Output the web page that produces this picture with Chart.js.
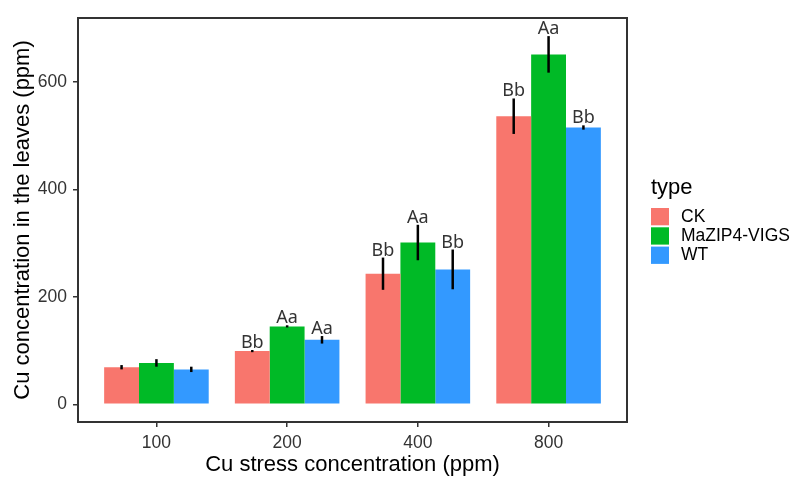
<!DOCTYPE html>
<html>
<head>
<meta charset="utf-8">
<script src="https://cdn.jsdelivr.net/npm/chart.js@4.4.0/dist/chart.umd.min.js"></script>
<style>
  html, body { margin: 0; padding: 0; background: #fff; }
  #wrap { width: 798px; height: 484px; }
</style>
</head>
<body>
<div id="wrap"><canvas id="myChart" width="798" height="484"></canvas></div>
<script>
// data
var categories = ['100', '200', '400', '800'];
var seriesNames = ['CK', 'MaZIP4-VIGS', 'WT'];
var ckValues = [69, 99, 243, 536];
var ckErr = [4, 2, 30, 33];
var ckLetters = ['', 'Bb', 'Bb', 'Bb'];
var vigsValues = [77, 145, 301, 651];
var vigsErr = [7, 2, 33, 34];
var vigsLetters = ['', 'Aa', 'Aa', 'Aa'];
var wtValues = [65, 120, 251, 515];
var wtErr = [5, 7, 37, 4];
var wtLetters = ['', 'Aa', 'Bb', 'Bb'];
var yTicks = [0, 200, 400, 600];

var colors = ['#F8766D', '#00BA26', '#3399FF'];
var errs = [ckErr, vigsErr, wtErr];
var letters = [ckLetters, vigsLetters, wtLetters];

function toPoints(vals) {
  return vals.map(function (v, i) { return { x: i + 1, y: v }; });
}

var chartData = {
  datasets: [
    { label: seriesNames[0], data: toPoints(ckValues), backgroundColor: colors[0] },
    { label: seriesNames[1], data: toPoints(vigsValues), backgroundColor: colors[1] },
    { label: seriesNames[2], data: toPoints(wtValues), backgroundColor: colors[2] }
  ]
};

// error bars, letters, panel border and legend
var extras = {
  id: 'extras',
  afterDatasetsDraw: function (chart) {
    var c = chart.ctx;
    var y = chart.scales.y;
    c.save();
    chart.data.datasets.forEach(function (ds, i) {
      var meta = chart.getDatasetMeta(i);
      meta.data.forEach(function (bar, j) {
        var v = ds.data[j].y;
        var e = errs[i][j];
        var top = y.getPixelForValue(v + e);
        var bot = y.getPixelForValue(v - e);
        c.strokeStyle = '#000';
        c.lineWidth = 2.5;
        c.beginPath();
        c.moveTo(bar.x, top);
        c.lineTo(bar.x, bot);
        c.stroke();
        if (letters[i][j]) {
          c.fillStyle = '#333';
          c.font = '18px "Noto Sans"';
          c.textAlign = 'center';
          c.textBaseline = 'alphabetic';
          c.fillText(letters[i][j], bar.x, top - 2);
        }
      });
    });
    c.restore();
  },
  afterDraw: function (chart) {
    var c = chart.ctx;
    var a = chart.chartArea;
    c.save();
    c.strokeStyle = '#333';
    c.lineWidth = 2;
    c.strokeRect(a.left, a.top, a.right - a.left, a.bottom - a.top);

    // legend
    var lx = 651, ly = 208;
    c.fillStyle = '#000';
    c.font = '22px "Liberation Sans"';
    c.textAlign = 'left';
    c.textBaseline = 'alphabetic';
    c.fillText('type', lx, 194);
    c.font = '17.5px "Liberation Sans"';
    c.textBaseline = 'middle';
    chart.data.datasets.forEach(function (ds, i) {
      c.fillStyle = ds.backgroundColor;
      c.fillRect(lx, ly + i * 19.3, 18, 17.3);
      c.fillStyle = '#000';
      c.fillText(ds.label, lx + 30, ly + i * 19.3 + 9);
    });
    c.restore();
  }
};

var ctx = document.getElementById('myChart').getContext('2d');
var myChart = new Chart(ctx, {
  type: 'bar',
  data: chartData,
  options: {
    responsive: false,
    animation: false,
    layout: { padding: { left: 0, top: 18, right: 171, bottom: 0 } },
    datasets: { bar: { categoryPercentage: 0.8, barPercentage: 1.0 } },
    plugins: { legend: { display: false }, tooltip: { enabled: false } },
    scales: {
      x: {
        type: 'linear',
        min: 0.4,
        max: 4.6,
        offset: false,
        afterBuildTicks: function (s) { s.ticks = categories.map(function (c, i) { return { value: i + 1 }; }); },
        afterFit: function (s) { s.height = 62; },
        border: { display: false },
        grid: { offset: false, drawOnChartArea: false, drawTicks: true, tickLength: 5, color: '#333', lineWidth: 1.5 },
        ticks: {
          padding: 6,
          color: '#333',
          font: { family: 'Liberation Sans', size: 17.5 },
          maxRotation: 0,
          callback: function (v) { return categories[v - 1]; }
        },
        title: {
          display: true,
          text: 'Cu stress concentration (ppm)',
          color: '#000',
          font: { family: 'Liberation Sans', size: 22 },
          padding: { top: 0, bottom: 6 }
        }
      },
      y: {
        min: -32.9,
        max: 718.7,
        afterBuildTicks: function (s) { s.ticks = yTicks.map(function (v) { return { value: v }; }); },
        afterFit: function (s) { s.width = 78; },
        border: { display: false },
        grid: { drawOnChartArea: false, drawTicks: true, tickLength: 5, color: '#333', lineWidth: 1.5 },
        ticks: {
          padding: 6,
          color: '#333',
          font: { family: 'Liberation Sans', size: 17.5 }
        },
        title: {
          display: true,
          text: 'Cu concentration in the leaves (ppm)',
          color: '#000',
          font: { family: 'Liberation Sans', size: 22 },
          padding: { top: 10, bottom: 0 }
        }
      }
    }
  },
  plugins: [extras]
});
</script>
</body>
</html>
